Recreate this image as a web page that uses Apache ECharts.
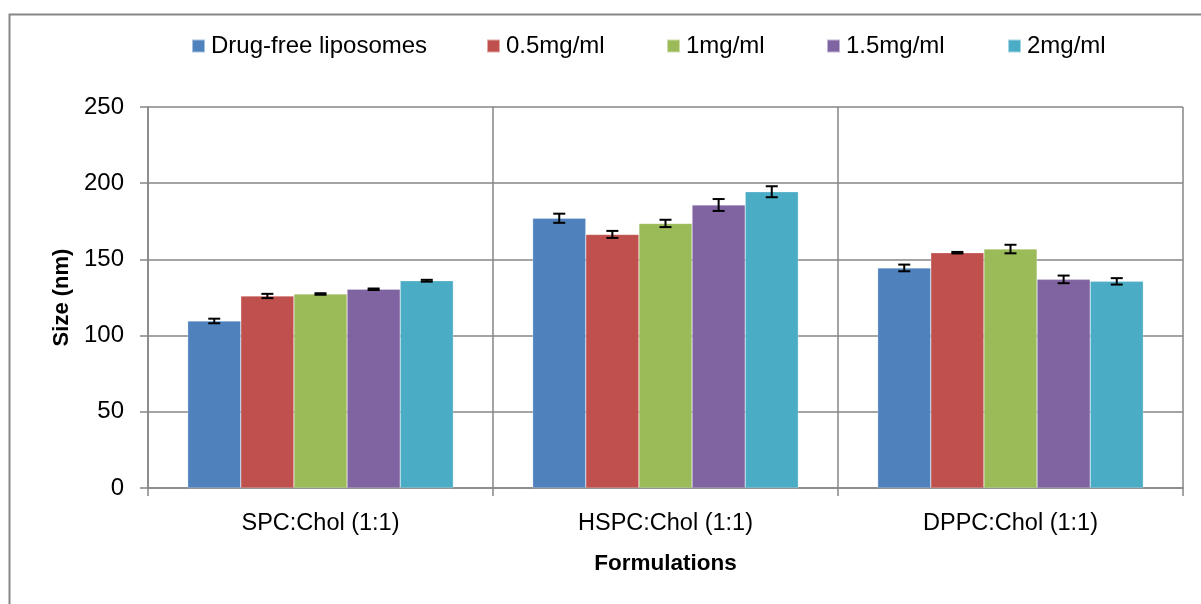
<!DOCTYPE html>
<html><head><meta charset="utf-8">
<script src="https://cdn.jsdelivr.net/npm/echarts@6/dist/echarts.min.js"></script>
<style>html,body{margin:0;padding:0;background:#fff}#c{width:1201px;height:604px}</style>
</head><body><div id="c"></div>
<script>
var categories = ['SPC:Chol (1:1)', 'HSPC:Chol (1:1)', 'DPPC:Chol (1:1)'];
var seriesNames = ['Drug-free liposomes', '0.5mg/ml', '1mg/ml', '1.5mg/ml', '2mg/ml'];
var drugFree = [109.6, 177.0, 144.4];
var mg05 = [126.0, 166.4, 154.4];
var mg1 = [127.3, 173.6, 156.8];
var mg15 = [130.4, 185.7, 136.9];
var mg2 = [136.0, 194.4, 135.6];
var errDrugFree = [1.5, 3.0, 2.2];
var err05 = [1.4, 2.3, 0.5];
var err1 = [0.5, 2.4, 2.8];
var err15 = [0.5, 3.9, 2.5];
var err2 = [0.6, 3.6, 2.1];
var yTicks = [0, 50, 100, 150, 200, 250];
var colors = ['#4F81BD', '#C0504D', '#9BBB59', '#8064A2', '#4BACC6'];

var values = [drugFree, mg05, mg1, mg15, mg2];
var errors = [errDrugFree, err05, err1, err15, err2];
var gapFrac = 0.23;
var FONT = 'Liberation Sans';
var legendLefts = [191, 486, 666, 826, 1007];

var series = [];
values.forEach(function (v, i) {
  series.push({
    name: seriesNames[i], type: 'bar', data: v, barGap: '0%', barCategoryGap: '23%',
    itemStyle: { color: colors[i], borderColor: 'rgba(255,255,255,0.5)', borderWidth: 0.5 }, z: 2
  });
});
values.forEach(function (v, i) {
  var d = v.map(function (val, k) { return [k, val, errors[i][k]]; });
  series.push({
    type: 'custom', name: 'err' + i, z: 5, silent: true,
    data: d,
    renderItem: function (params, api) {
      var cat = api.value(0), val = api.value(1), e = api.value(2);
      var catW = api.size([1, 0])[0];
      var bw = catW * (1 - gapFrac) / values.length;
      var center = api.coord([cat, val]);
      var x = center[0] + (i - (values.length - 1) / 2) * bw;
      var top = api.coord([cat, val + e])[1];
      var bot = api.coord([cat, val - e])[1];
      var hw = 6;
      var st = { stroke: '#000', lineWidth: 2 };
      return { type: 'group', children: [
        { type: 'line', shape: { x1: x, y1: top, x2: x, y2: bot }, style: st },
        { type: 'line', shape: { x1: x - hw, y1: top, x2: x + hw, y2: top }, style: st },
        { type: 'line', shape: { x1: x - hw, y1: bot, x2: x + hw, y2: bot }, style: st }
      ]};
    }
  });
});

var legends = seriesNames.map(function (n, i) {
  return {
    data: [n], top: 34, left: legendLefts[i], itemWidth: 13, itemHeight: 13,
    icon: 'rect', padding: 0, textStyle: { fontSize: 24, color: '#000', fontFamily: FONT, padding: [0, 0, 0, 1] }
  };
});

var chart = echarts.init(document.getElementById('c'), null, { renderer: 'canvas' });
chart.setOption({
  animation: false,
  backgroundColor: '#fff',
  textStyle: { fontFamily: FONT },
  graphic: [{ type: 'rect', left: 7, top: 12, shape: { width: 1210, height: 620 },
    style: { fill: 'none', stroke: '#868686', lineWidth: 2 }, z: -1 }],
  legend: legends,
  grid: { left: 148, right: 18, top: 107, bottom: 116, containLabel: false },
  xAxis: {
    type: 'category', data: categories,
    name: 'Formulations', nameLocation: 'middle', nameGap: 64,
    nameTextStyle: { fontSize: 22.5, fontWeight: 'bold', color: '#000', fontFamily: FONT },
    axisLine: { lineStyle: { color: '#868686', width: 1.5 } },
    axisTick: { show: true, length: 8, lineStyle: { color: '#868686', width: 1.5 }, alignWithLabel: false },
    axisLabel: { fontSize: 23.5, color: '#000', margin: 24, fontFamily: FONT },
    splitLine: { show: true, lineStyle: { color: '#868686', width: 1.5 } }
  },
  yAxis: {
    type: 'value', min: 0, max: 250, interval: 50,
    name: 'Size (nm)', nameLocation: 'middle', nameGap: 73,
    nameTextStyle: { fontSize: 22, fontWeight: 'bold', color: '#000', fontFamily: FONT },
    axisLine: { show: true, lineStyle: { color: '#868686', width: 1.5 } },
    axisTick: { show: true, length: 8, inside: false, lineStyle: { color: '#868686', width: 1.5 } },
    axisLabel: { fontSize: 24, color: '#000', margin: 24, fontFamily: FONT,
      formatter: function (v) { return yTicks.indexOf(v) >= 0 ? String(v) : ''; } },
    splitLine: { show: true, lineStyle: { color: '#868686', width: 1.5 } }
  },
  series: series
});
</script></body></html>
